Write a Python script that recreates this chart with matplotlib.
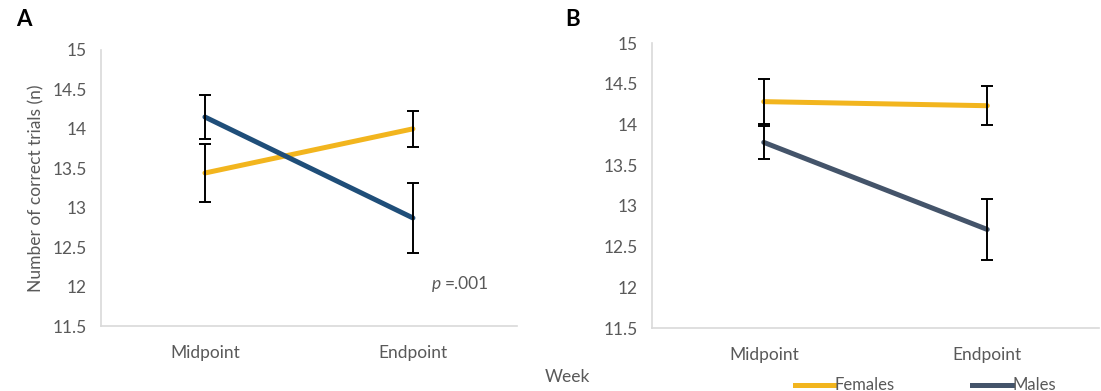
import numpy as np
import matplotlib.pyplot as plt

plt.rcParams['font.family'] = ['Lato', 'DejaVu Sans']

weeks = ['Midpoint', 'Endpoint']
yticks = [11.5, 12, 12.5, 13, 13.5, 14, 14.5, 15]
ytick_labels = ['11.5', '12', '12.5', '13', '13.5', '14', '14.5', '15']

# panel A
a_female = [13.44, 14.0]
a_female_err = [0.37, 0.23]
a_male = [14.15, 12.87]
a_male_err = [0.28, 0.44]

# panel B
b_female = [14.28, 14.23]
b_female_err = [0.28, 0.24]
b_male = [13.78, 12.71]
b_male_err = [0.20, 0.38]

yellow = '#F2B51E'
blue_a = '#1F4E79'
blue_b = '#44546A'
grey_txt = '#595959'
fs = 12.5

fig = plt.figure(figsize=(11.01, 3.91), dpi=100)
axA = fig.add_axes([0.0917, 0.1662, 0.3778, 0.706])
axB = fig.add_axes([0.5922, 0.1611, 0.406, 0.7289])

def style(ax):
    ax.set_xlim(-0.5, 1.5)
    ax.set_ylim(11.5, 15)
    ax.set_xticks(range(len(weeks)))
    ax.set_xticklabels(weeks)
    ax.set_yticks(yticks)
    ax.set_yticklabels(ytick_labels)
    ax.tick_params(length=0, labelsize=fs, colors=grey_txt, pad=10)
    ax.tick_params(axis='x', pad=14)
    for s in ['top', 'right']:
        ax.spines[s].set_visible(False)
    for s in ['left', 'bottom']:
        ax.spines[s].set_color('#D9D9D9')
        ax.spines[s].set_linewidth(1.2)

x = np.arange(len(weeks))
for ax, f, fe, m, me, mc in [(axA, a_female, a_female_err, a_male, a_male_err, blue_a),
                             (axB, b_female, b_female_err, b_male, b_male_err, blue_b)]:
    style(ax)
    ax.plot(x, f, color=yellow, lw=3.6, solid_capstyle='round', zorder=3)
    ax.plot(x, m, color=mc, lw=3.6, solid_capstyle='round', zorder=3)
    ax.errorbar(x, f, yerr=fe, fmt='none', ecolor='black', elinewidth=1.4, capsize=4.5, capthick=1.4, zorder=4)
    ax.errorbar(x, m, yerr=me, fmt='none', ecolor='black', elinewidth=1.4, capsize=4.5, capthick=1.4, zorder=4)

axA.set_ylabel('Number of correct trials (n)', fontsize=fs, color=grey_txt, labelpad=6)
py = 1 - 284 / 391
fig.text(432 / 1101, py, 'p', fontsize=fs, color=grey_txt, style='italic', va='center')
fig.text(445 / 1101, py, '=.001', fontsize=fs, color=grey_txt, va='center')

fig.text(16 / 1101, 1 - 19 / 391, 'A', fontsize=16, fontweight='bold', va='center')
fig.text(565 / 1101, 1 - 19 / 391, 'B', fontsize=16, fontweight='bold', va='center')
fig.text(545 / 1101, 1 - 377 / 391, 'Week', fontsize=fs, color=grey_txt, va='center')

# legend
ly = 1 - 385 / 391
fig.add_artist(plt.Line2D([795 / 1101, 834 / 1101], [ly, ly], color=yellow, lw=3.6))
fig.text(835 / 1101, ly, 'Females', fontsize=fs - 0.5, color=grey_txt, va='center')
fig.add_artist(plt.Line2D([972 / 1101, 1012 / 1101], [ly, ly], color=blue_b, lw=3.6))
fig.text(1013 / 1101, ly, 'Males', fontsize=fs - 0.5, color=grey_txt, va='center')

fig.savefig('out.png', dpi=100)
